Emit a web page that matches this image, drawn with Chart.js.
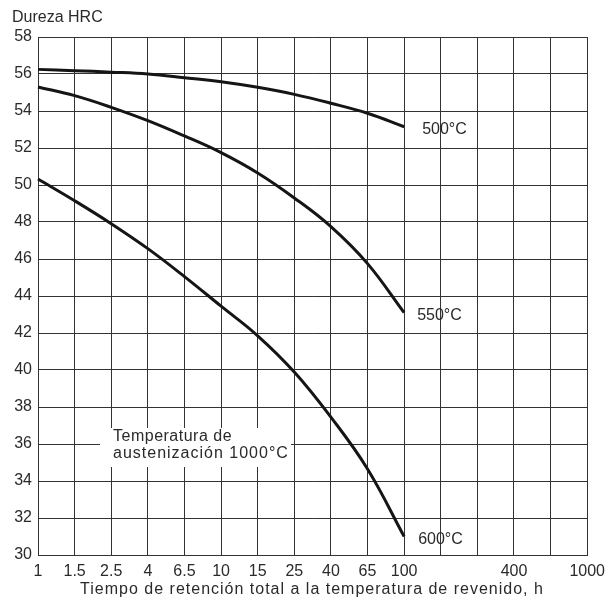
<!DOCTYPE html>
<html>
<head>
<meta charset="utf-8">
<script src="https://cdn.jsdelivr.net/npm/chart.js@4"></script>
<style>
  body { margin: 0; background: #fff; }
  #wrap { width: 612px; height: 605px; }
</style>
</head>
<body>
<div id="wrap"><canvas id="hardnessChart" width="612" height="605"></canvas></div>
<script>
// eje x: tiempo (h), escala casi logarítmica con 5 pasos por década
const timeLabels = ['1', '1.5', '2.5', '4', '6.5', '10', '15', '25', '40', '65', '100', '', '', '400', '', '1000'];
const yTicks = [30, 32, 34, 36, 38, 40, 42, 44, 46, 48, 50, 52, 54, 56, 58];

// dureza HRC (de 1 h a 100 h)
const hrc500 = [56.25, 56.18, 56.1, 56.0, 55.8, 55.58, 55.28, 54.9, 54.42, 53.88, 53.15];
const hrc550 = [55.3, 54.83, 54.2, 53.48, 52.65, 51.75, 50.65, 49.3, 47.75, 45.75, 43.1];
const hrc600 = [50.32, 49.15, 47.91, 46.56, 45.05, 43.45, 41.85, 39.89, 37.45, 34.65, 31.0];
const curveNames = ['500°C', '550°C', '600°C'];

const FONT = '"Liberation Sans", Arial, sans-serif';
const INK = '#2a2a2a';

// textos sobre el lienzo: título del eje y, título del eje x, rótulos de curvas y nota
const notesPlugin = {
  id: 'notes',
  afterDatasetsDraw(chart) {
    const ctx = chart.ctx;
    const x = chart.scales.x, y = chart.scales.y;
    ctx.save();
    ctx.font = '16px ' + FONT;
    ctx.fillStyle = INK;
    ctx.textBaseline = 'middle';
    ctx.textAlign = 'left';
    ctx.fillText('Dureza HRC', 12, 18);

    // rótulo al final de cada curva
    const dx = [18, 13, 14];
    chart.data.datasets.forEach((ds, i) => {
      const last = ds.data.length - 1;
      const px = x.getPixelForValue(last);
      const py = y.getPixelForValue(ds.data[last]);
      ctx.fillText(curveNames[i], px + dx[i], py + 3);
    });

    // título del eje x
    ctx.letterSpacing = '1px';
    ctx.textAlign = 'center';
    ctx.fillText('Tiempo de retención total a la temperatura de revenido, h', 312, 590);

    // nota con fondo blanco
    ctx.fillStyle = '#fff';
    ctx.fillRect(100, 428, 191, 39);
    ctx.fillStyle = INK;
    ctx.textAlign = 'left';
    ctx.letterSpacing = '0.5px';
    ctx.fillText('Temperatura de', 113, 437);
    ctx.letterSpacing = '1px';
    ctx.fillText('austenización 1000°C', 113, 454);
    ctx.restore();
  }
};

function curve(data) {
  return {
    data: data,
    borderColor: '#151515',
    borderWidth: 3,
    pointRadius: 0,
    fill: false,
    tension: 0.4
  };
}

new Chart(document.getElementById('hardnessChart'), {
  type: 'line',
  data: {
    labels: timeLabels,
    datasets: [curve(hrc500), curve(hrc550), curve(hrc600)]
  },
  options: {
    responsive: false,
    animation: false,
    layout: { padding: { top: 37, right: 20, bottom: 0, left: 0 } },
    plugins: {
      legend: { display: false },
      tooltip: { enabled: false }
    },
    scales: {
      x: {
        type: 'category',
        offset: false,
        afterFit(scale) { scale.height = 50; },
        grid: { color: '#333', lineWidth: 1, drawTicks: false },
        border: { color: '#333', width: 1 },
        ticks: {
          autoSkip: false,
          maxRotation: 0,
          padding: 7,
          color: INK,
          font: { family: FONT, size: 16 }
        }
      },
      y: {
        min: 30,
        max: 58,
        afterFit(scale) { scale.width = 38; },
        afterBuildTicks(scale) { scale.ticks = yTicks.map(v => ({ value: v })); },
        grid: { color: '#333', lineWidth: 1, drawTicks: false },
        border: { color: '#333', width: 1 },
        ticks: {
          padding: 6,
          color: INK,
          font: { family: FONT, size: 16 }
        }
      }
    }
  },
  plugins: [notesPlugin]
});
</script>
</body>
</html>
